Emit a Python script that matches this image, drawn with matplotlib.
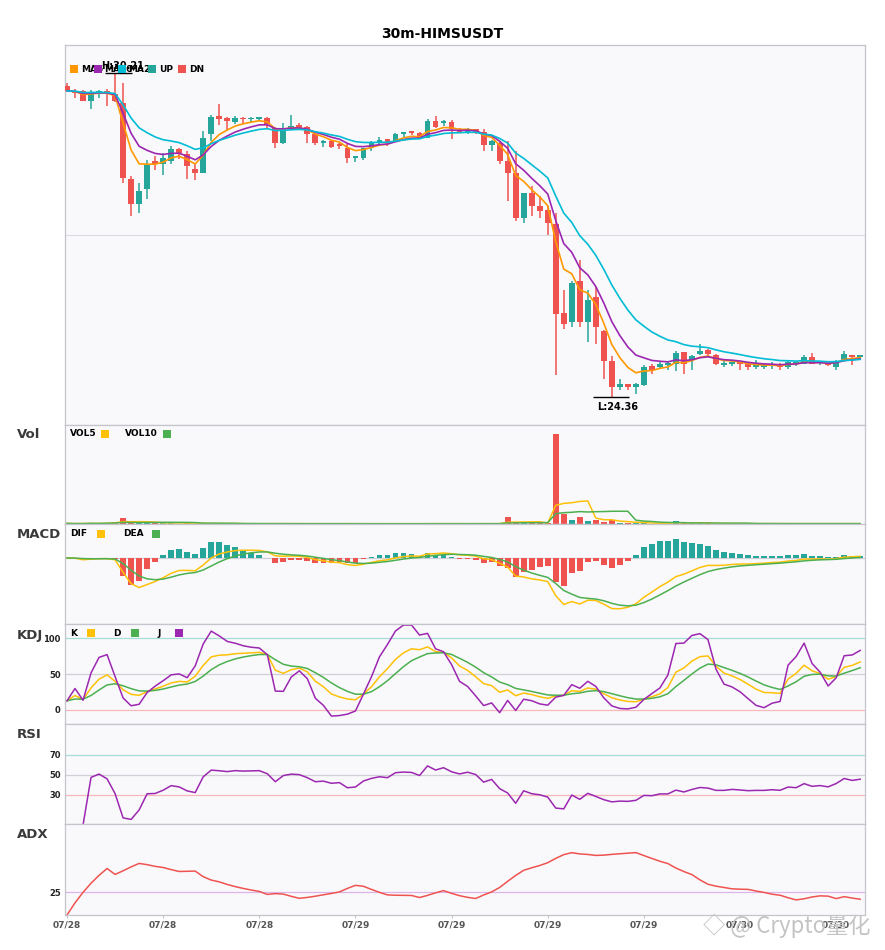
import numpy as np
import pandas as pd
import matplotlib
matplotlib.use("Agg")
import matplotlib.pyplot as plt
from matplotlib.patches import Rectangle

# 30m candles, 07/28 08:00 onwards
opens = [29.97, 29.87, 29.87, 29.70, 29.85, 29.88, 29.82, 29.67, 28.29, 27.85,
         28.11, 28.62, 28.57, 28.62, 28.83, 28.74, 28.47, 28.41, 29.11, 29.43,
         29.39, 29.32, 29.39, 29.37, 29.38, 29.39, 29.21, 28.95, 29.21, 29.27,
         29.23, 29.10, 28.94, 28.97, 28.91, 28.86, 28.67, 28.67, 28.86, 28.94,
         29.01, 28.96, 29.11, 29.13, 29.12, 29.04, 29.34, 29.30, 29.32, 29.18,
         29.14, 29.19, 29.14, 28.90, 28.95, 28.62, 28.41, 27.59, 28.05, 27.81,
         27.74, 27.49, 25.88, 25.72, 26.45, 25.72, 26.17, 25.56, 25.02, 24.55,
         24.60, 24.55, 24.58, 24.92, 24.91, 24.95, 24.97, 25.18, 25.03, 25.15,
         25.22, 25.12, 24.95, 24.97, 24.98, 24.96, 24.91, 24.91, 24.92, 24.96,
         24.90, 24.96, 24.97, 25.08, 24.98, 24.98, 24.91, 25.04, 25.12, 25.08]
highs = [30.02, 29.92, 29.90, 29.90, 29.90, 29.92, 30.21, 30.03, 28.34, 28.23,
         28.64, 28.71, 28.77, 28.88, 28.86, 28.79, 28.59, 29.15, 29.44, 29.64,
         29.41, 29.43, 29.41, 29.41, 29.41, 29.41, 29.23, 29.31, 29.45, 29.31,
         29.25, 29.13, 28.99, 28.99, 28.95, 28.92, 28.71, 28.86, 28.98, 29.05,
         29.02, 29.13, 29.14, 29.14, 29.14, 29.37, 29.43, 29.35, 29.36, 29.22,
         29.22, 29.20, 29.19, 28.99, 28.98, 28.97, 28.80, 28.05, 28.16, 27.99,
         27.81, 27.69, 26.29, 26.45, 26.83, 26.29, 26.35, 25.58, 25.10, 24.70,
         24.60, 24.62, 24.94, 24.97, 25.00, 25.00, 25.20, 25.18, 25.12, 25.32,
         25.24, 25.14, 25.02, 25.03, 25.00, 24.97, 25.03, 24.98, 25.00, 24.98,
         25.03, 25.00, 25.12, 25.16, 25.02, 25.00, 25.03, 25.20, 25.12, 25.12]
lows = [29.86, 29.76, 29.69, 29.56, 29.76, 29.61, 29.68, 28.23, 27.62, 27.68,
        27.94, 28.46, 28.37, 28.57, 28.65, 28.29, 28.28, 28.40, 28.98, 29.27,
        29.15, 29.29, 29.29, 29.31, 29.33, 29.21, 28.86, 28.93, 29.19, 29.19,
        28.95, 28.91, 28.87, 28.86, 28.83, 28.59, 28.60, 28.64, 28.80, 28.89,
        28.89, 28.96, 29.05, 29.08, 29.01, 29.04, 29.22, 29.25, 29.01, 29.13,
        29.11, 29.10, 28.79, 28.79, 28.57, 27.90, 27.54, 27.51, 27.62, 27.60,
        27.28, 24.76, 25.60, 25.63, 25.63, 25.36, 25.32, 24.70, 24.36, 24.49,
        24.49, 24.42, 24.57, 24.79, 24.88, 24.85, 24.84, 24.79, 24.85, 25.12,
        25.10, 24.94, 24.91, 24.92, 24.86, 24.85, 24.88, 24.88, 24.88, 24.86,
        24.88, 24.92, 24.96, 24.96, 24.95, 24.92, 24.86, 25.04, 24.94, 25.08]
closes = [29.88, 29.85, 29.70, 29.85, 29.87, 29.84, 29.70, 28.31, 27.85, 28.07,
          28.55, 28.56, 28.67, 28.83, 28.76, 28.52, 28.41, 29.04, 29.41, 29.38,
          29.34, 29.39, 29.37, 29.38, 29.39, 29.28, 28.95, 29.19, 29.25, 29.23,
          29.11, 28.94, 28.96, 28.87, 28.89, 28.67, 28.69, 28.86, 28.94, 28.99,
          28.96, 29.11, 29.13, 29.12, 29.04, 29.34, 29.23, 29.31, 29.20, 29.14,
          29.19, 29.13, 28.90, 28.97, 28.62, 28.40, 27.60, 28.04, 27.80, 27.71,
          27.50, 25.87, 25.68, 26.42, 25.72, 26.12, 25.62, 25.02, 24.55, 24.60,
          24.55, 24.61, 24.90, 24.86, 24.96, 24.96, 25.16, 24.97, 25.10, 25.20,
          25.15, 24.96, 24.96, 25.00, 24.96, 24.91, 24.92, 24.92, 24.94, 24.91,
          25.00, 24.97, 25.08, 24.97, 24.99, 24.94, 25.02, 25.15, 25.09, 25.12]
volumes = [600, 300, 400, 1300, 500, 1300, 2300, 6300, 1000, 800,
           900, 600, 2300, 600, 500, 600, 500, 800, 600, 400,
           300, 300, 300, 300, 300, 400, 500, 400, 300, 300,
           300, 400, 300, 300, 300, 400, 300, 300, 300, 300,
           300, 300, 300, 300, 300, 400, 400, 300, 300, 300,
           300, 400, 400, 300, 400, 7300, 1200, 1000, 900, 800,
           1000, 90000, 10300, 4300, 7300, 3300, 4300, 2300, 3700, 900,
           800, 900, 1200, 500, 500, 500, 3300, 1000, 600, 800,
           600, 400, 400, 400, 400, 400, 400, 400, 400, 400,
           400, 400, 400, 400, 400, 400, 400, 400, 400, 400]
tick_pos = [0, 12, 24, 36, 48, 60, 72, 84, 96]
tick_labels = ['07/28', '07/28', '07/28', '07/29', '07/29', '07/29', '07/29', '07/30', '07/30']

UP = '#26a69a'
DN = '#ef5350'
BG = '#f9f9fc'
SPINE = '#c4c4cc'

df = pd.DataFrame({'open': opens, 'high': highs, 'low': lows, 'close': closes, 'vol': volumes})
x = np.arange(len(df))
c, h, l = df['close'], df['high'], df['low']

ma1 = c.ewm(span=5, adjust=False).mean()
ma2 = c.ewm(span=8, adjust=False).mean()
ma3 = c.ewm(span=14, adjust=False).mean()
vol5 = df['vol'].rolling(5, min_periods=1).mean()
vol10 = df['vol'].rolling(10, min_periods=1).mean()

dif = c.ewm(span=6, adjust=False).mean() - c.ewm(span=13, adjust=False).mean()
dea = dif.ewm(span=5, adjust=False).mean()
hist = (dif - dea) * 2

llv = l.rolling(9, min_periods=1).min()
hhv = h.rolling(9, min_periods=1).max()
rsv = (c - llv) / (hhv - llv) * 100
k = rsv.ewm(com=2, adjust=False).mean()
d = k.ewm(com=2, adjust=False).mean()
j = 3 * k - 2 * d

delta = c.diff()
gain = delta.clip(lower=0).ewm(alpha=1/14).mean()
loss = (-delta.clip(upper=0)).ewm(alpha=1/14).mean()
rsi = 100 * gain / (gain + loss)

pc = c.shift()
tr = pd.concat([h - l, (h - pc).abs(), (l - pc).abs()], axis=1).max(axis=1)
up_m = h.diff()
dn_m = -l.diff()
pdm = pd.Series(np.where((up_m > dn_m) & (up_m > 0), up_m, 0.0))
mdm = pd.Series(np.where((dn_m > up_m) & (dn_m > 0), dn_m, 0.0))
atr = tr.ewm(span=14, adjust=False).mean()
pdi = 100 * pdm.ewm(span=14, adjust=False).mean() / atr
mdi = 100 * mdm.ewm(span=14, adjust=False).mean() / atr
dx = (100 * (pdi - mdi).abs() / (pdi + mdi)).fillna(0)
adx = dx.ewm(span=14, adjust=False).mean()

W, H = 885, 950
fig = plt.figure(figsize=(W / 100, H / 100), dpi=100)


def box(top, bottom):
    return [65 / W, 1 - bottom / H, 800 / W, (bottom - top) / H]


def fx(px):
    return px / W


def fy(py):
    return 1 - py / H


ax_p = fig.add_axes(box(45, 425))
ax_v = fig.add_axes(box(425, 524))
ax_m = fig.add_axes(box(524, 624))
ax_k = fig.add_axes(box(624, 724))
ax_r = fig.add_axes(box(724, 824))
ax_a = fig.add_axes(box(824, 915))
axes = [ax_p, ax_v, ax_m, ax_k, ax_r, ax_a]
for ax in axes:
    ax.set_facecolor(BG)
    for s in ax.spines.values():
        s.set_color(SPINE)
        s.set_linewidth(0.9)
    ax.tick_params(length=0, labelsize=6, colors='#222222')
    ax.set_yticks([])
    ax.set_xticks([])
    ax.set_xlim(-0.25, len(df) - 0.4)

# candles
is_up = df['close'] >= df['open']
colors = np.where(is_up, UP, DN)
body_lo = np.minimum(df['open'], df['close'])
body_h = np.maximum((df['close'] - df['open']).abs(), 0.03)
ax_p.vlines(x, l, h, colors=colors, lw=1.1, zorder=3)
ax_p.bar(x, body_h, bottom=body_lo, width=0.72, color=colors, zorder=4)
ax_p.plot(x, ma1, color='#ff9800', lw=1.2, zorder=5)
ax_p.plot(x, ma2, color='#9c27b0', lw=1.2, zorder=5)
ax_p.plot(x, ma3, color='#00bcd4', lw=1.2, zorder=5)
lo, hi = l.min(), h.max()
pad = (hi - lo) * 0.085
ax_p.set_ylim(lo - pad, hi + pad)
ax_p.axhline((lo + hi) / 2, color='#dcdce4', lw=0.8, zorder=1)
ih, il = int(h.idxmax()), int(l.idxmin())
ax_p.hlines(hi, ih - 1.2, ih + 2.1, color='black', lw=1.0, zorder=6)
ax_p.annotate(f'H:{hi:.2f}', (ih + 0.9, hi), xytext=(0, 1), textcoords='offset points',
              ha='center', va='bottom', fontsize=7, weight='bold', zorder=7)
ax_p.hlines(lo, il - 2.4, il + 2.1, color='black', lw=1.0, zorder=6)
ax_p.annotate(f'L:{lo:.2f}', (il + 0.75, lo), xytext=(0, -3), textcoords='offset points',
              ha='center', va='top', fontsize=7, weight='bold', zorder=7)

# volume
ax_v.bar(x, df['vol'], width=0.72, color=colors)
ax_v.plot(x, vol5, color='#ffc107', lw=1.1)
ax_v.plot(x, vol10, color='#4caf50', lw=1.1)
ax_v.set_ylim(0, df['vol'].max() * 1.1)

# macd
ax_m.axhline(0, color='#cfcfd6', lw=0.9, zorder=1)
ax_m.bar(x, hist, width=0.72, color=np.where(hist >= 0, UP, DN), zorder=2)
ax_m.plot(x, dif, color='#ffc107', lw=1.1, zorder=3)
ax_m.plot(x, dea, color='#4caf50', lw=1.1, zorder=3)
mlo = min(dif.min(), dea.min(), hist.min()) * 1.3
ax_m.set_ylim(mlo, -mlo * 0.515)

# kdj
for v, col in [(100, '#a8dcd6'), (50, '#d0d0d6'), (0, '#f6b8b8')]:
    ax_k.axhline(v, color=col, lw=0.9, zorder=1)
ax_k.plot(x, k, color='#ffc107', lw=1.1)
ax_k.plot(x, d, color='#4caf50', lw=1.1)
ax_k.plot(x, j, color='#9c27b0', lw=1.1)
ax_k.set_ylim(-20, 120)
ax_k.set_yticks([0, 50, 100])

# rsi
for v, col in [(70, '#a8dcd6'), (50, '#d0d0d6'), (30, '#f6b8b8')]:
    ax_r.axhline(v, color=col, lw=0.9, zorder=1)
ax_r.plot(x, rsi, color='#9c27b0', lw=1.1)
ax_r.set_ylim(1, 101)
ax_r.set_yticks([30, 50, 70])

# adx
ax_a.axhline(25, color='#dcb4ea', lw=0.9, zorder=1)
ax_a.plot(x, adx, color='#ef5350', lw=1.1)
ax_a.set_ylim(0, 100)
ax_a.set_yticks([25])

for ax in [ax_k, ax_r, ax_a]:
    for t in ax.get_yticklabels():
        t.set_fontweight('bold')
    ax.tick_params(axis='y', pad=3)

ax_a.set_xticks(tick_pos)
ax_a.set_xticklabels(tick_labels, fontsize=6.5, fontweight='bold', color='#555555')
ax_a.tick_params(axis='x', length=2, color=SPINE, pad=2)

# titles and panel names
fig.text(0.5, fy(34), '30m-HIMSUSDT', ha='center', va='center', fontsize=10, weight='bold')
for name, py in [('Vol', 435), ('MACD', 535), ('KDJ', 636), ('RSI', 735), ('ADX', 835)]:
    fig.text(fx(17), fy(py), name, ha='left', va='center', fontsize=9.5, weight='bold', color='#3a3a3a')


def square(px, py, color, z):
    fig.patches.append(Rectangle((fx(px), fy(py + 4)), 8 / W, 8 / H, transform=fig.transFigure,
                                 facecolor=color, edgecolor='none', zorder=z))


def label(px, py, s, z):
    fig.text(fx(px), fy(py), s, ha='left', va='center', fontsize=6.5, weight='bold', zorder=z)


# price legend: squares drawn on top of the previous label
z = 10
for sq, tx, s, col in [(70, 81, 'MA5', '#ff9800'), (94, 104, 'MA10', '#9c27b0'),
                       (118, 128, 'MA20', '#00bcd4'), (148, 159, 'UP', UP), (178, 189, 'DN', DN)]:
    square(sq, 69, col, z)
    label(tx, 69, s, z + 1)
    z += 2

for items, py in [([(70, 'VOL5', 101, '#ffc107'), (125, 'VOL10', 163, '#4caf50')], 434),
                  ([(70, 'DIF', 97, '#ffc107'), (123, 'DEA', 152, '#4caf50')], 534),
                  ([(70, 'K', 87, '#ffc107'), (113, 'D', 131, '#4caf50'), (157, 'J', 175, '#9c27b0')], 633)]:
    for tx, s, sq, col in items:
        label(tx, py, s, 20)
        square(sq, py, col, 20)

fig.text(fx(703), fy(926), '◇ @ Crypto量化', ha='left', va='center', fontsize=16,
         color='#c4c4c4', family=['Noto Sans CJK SC', 'DejaVu Sans'], zorder=30)

fig.savefig('out.png', dpi=100, facecolor='white')
